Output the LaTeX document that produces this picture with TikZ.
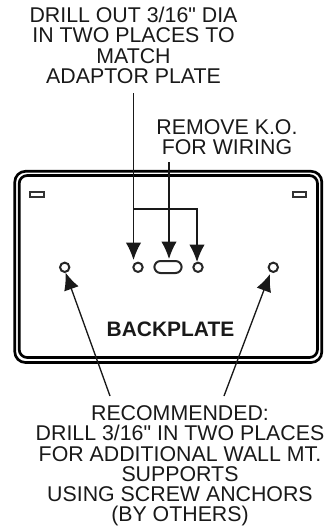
\documentclass[tikz,border=0pt]{standalone}
\usepackage{fontspec}
\setmainfont[Ligatures=TeXOff]{Liberation Sans}
\usetikzlibrary{arrows.meta}
\tikzset{
	note/.style={align=center,font=\fontsize{16}{15.2}\selectfont,inner sep=0pt,text=black!90},
	hole/.style={circle,draw=black!85,line width=1.5pt,fill=white,minimum size=7pt,inner sep=0pt},
	tab/.style={rectangle,draw=black!80,line width=1.4pt,minimum width=10pt,minimum height=3.8pt,inner sep=0pt},
	lead/.style={draw=black!90,line width=1pt,-{Latex[length=13pt,width=11.5pt]}}
}
\begin{document}
\begin{tikzpicture}[x=0.75pt,y=-0.75pt]

	\useasboundingbox (0,0) rectangle (329,529);

	% plate outline
	\draw[line width=2pt,rounded corners=8pt] (14.8,171.3) rectangle (321.8,362.5);
	\draw[line width=2pt,rounded corners=6pt] (19.2,175.5) rectangle (317.5,357.5);

	\node[tab] (t1) at (37,194.4) {};
	\node[tab] (t2) at (299.5,194.4) {};

	\node[hole] (h1) at (64.7,267.3) {};
	\node[hole] (h2) at (138,267.3) {};
	\node[hole] (h3) at (198,267.3) {};
	\node[hole] (h4) at (273.3,267.3) {};
	\node[rectangle,rounded corners=4.7pt,draw=black!85,line width=1.5pt,minimum width=20.5pt,minimum height=9pt,inner sep=0pt] (s) at (168,267) {};

	\node[font=\fontsize{15.7}{16}\selectfont\bfseries,inner sep=0pt,text=black!90] (b) at (170.5,329) {BACKPLATE};

	\node[note] (n1) at (133.5,45.5) {DRILL OUT 3/16" DIA\\IN TWO PLACES TO\\MATCH\\ADAPTOR PLATE};
	\node[note] (n2) at (227,137) {REMOVE K.O.\\FOR WIRING};
	\node[note] (n3) at (180,466) {RECOMMENDED:\\DRILL 3/16" IN TWO PLACES\\FOR ADDITIONAL WALL MT.\\SUPPORTS\\USING SCREW ANCHORS\\(BY OTHERS)};

	% leaders
	\coordinate (c1) at (133.5,93);
	\coordinate (c2) at (169,162);
	\coordinate (c3) at (133.5,209);
	\coordinate (c4) at (197,209);
	\coordinate (c5) at (110,396);
	\coordinate (c6) at (224,396);
	\coordinate (e1) at (133.5,260);
	\coordinate (e2) at (169,259);
	\coordinate (e3) at (197,262);
	\coordinate (e4) at (65.5,272.5);
	\coordinate (e5) at (270,274);

	\draw[lead] (c1) -- (e1);
	\draw[lead] (c2) -- (e2);
	\draw[lead] (c3) -- (c4) -- (e3);
	\draw[lead] (c5) -- (e4);
	\draw[lead] (c6) -- (e5);

\end{tikzpicture}
\end{document}
